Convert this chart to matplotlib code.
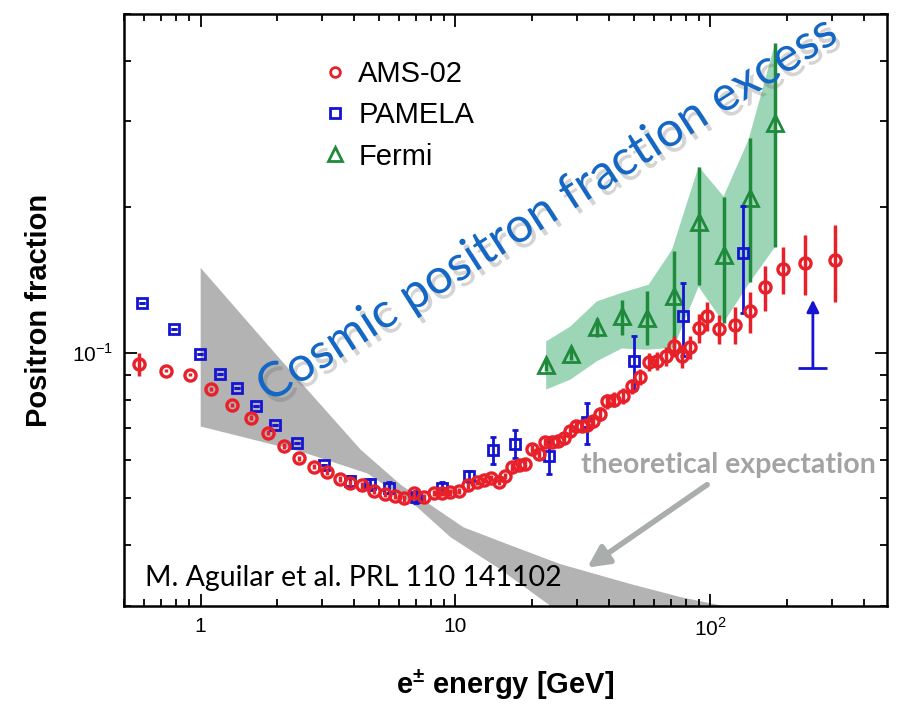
import numpy as np
import matplotlib
matplotlib.use("Agg")
import matplotlib.pyplot as plt
from matplotlib.lines import Line2D
from matplotlib.ticker import FixedLocator, FixedFormatter, NullFormatter, LogLocator
import matplotlib.patheffects as pe

plt.rcParams['font.family'] = ['Liberation Sans', 'DejaVu Sans']
plt.rcParams['mathtext.fontset'] = 'custom'
plt.rcParams['mathtext.rm'] = 'Liberation Sans'
plt.rcParams['mathtext.bf'] = 'Liberation Sans:bold'

RED = '#e8202a'
BLUE = '#1414d2'
GREEN = '#1f8a3c'

# AMS-02 positron fraction
ams_e = [0.573, 0.729, 0.906, 1.10, 1.33, 1.575, 1.83, 2.13, 2.44, 2.78,
         3.12, 3.51, 3.87, 4.31, 4.77, 5.27, 5.77, 6.29, 6.86, 7.51,
         8.22, 8.87, 9.56, 10.3, 11.2, 12.1, 12.9, 13.8, 14.8, 15.7,
         16.7, 17.7, 18.8, 19.9, 21.2, 22.5, 23.9, 25.2, 26.6, 28.1,
         29.6, 31.4, 32.9, 34.7, 36.8, 39.4, 42.0, 45.5, 49.3, 53.2,
         57.7, 62.0, 67.2, 72.3, 77.8, 83.5, 90.6, 97.1, 108.5, 124.5,
         142.6, 163.9, 192.1, 234.4, 308.3]
ams_f = [0.0947, 0.0918, 0.0901, 0.0843, 0.0781, 0.0734, 0.0684, 0.0642, 0.0605, 0.0582,
         0.0567, 0.0549, 0.0539, 0.0532, 0.0518, 0.0511, 0.0506, 0.0500, 0.0512, 0.0503,
         0.0513, 0.0513, 0.0515, 0.0518, 0.0532, 0.0541, 0.0547, 0.0551, 0.0540, 0.0556,
         0.0581, 0.0586, 0.0590, 0.0634, 0.0619, 0.0653, 0.0653, 0.0656, 0.0667, 0.0688,
         0.0707, 0.0705, 0.0710, 0.0722, 0.0748, 0.0794, 0.0800, 0.0815, 0.0852, 0.0891,
         0.0956, 0.0963, 0.0983, 0.1031, 0.0983, 0.1025, 0.1124, 0.1192, 0.1119, 0.1142,
         0.1217, 0.1366, 0.1488, 0.1531, 0.1550]
ams_err = [0.0050] + [0.0008] * 29 + [0.0012] * 9 + \
          [0.0018, 0.0018, 0.0019, 0.0020, 0.0022, 0.0025, 0.0028, 0.0028, 0.0030, 0.0032,
           0.0035, 0.0040, 0.0040, 0.0045, 0.0050, 0.0055, 0.0055, 0.0079, 0.0082, 0.0077,
           0.0101, 0.0118, 0.0146, 0.0164, 0.0218, 0.0280]

# PAMELA
pam_e = [0.591, 0.789, 0.991, 1.19, 1.39, 1.65, 1.95, 2.38, 3.06, 3.87,
         4.61, 5.47, 6.97, 8.87, 11.3, 14.0, 17.2, 23.2, 32.9, 50.4,
         78.2, 134.4]
pam_f = [0.1266, 0.1121, 0.0995, 0.0904, 0.0844, 0.0777, 0.0709, 0.0651, 0.0585, 0.0543,
         0.0535, 0.0526, 0.0504, 0.0526, 0.0556, 0.0629, 0.0649, 0.0611, 0.0718, 0.0960,
         0.1188, 0.1605]
pam_err = [0.0] * 9 + [0.0014] * 6 + [0.0040, 0.0043, 0.0048, 0.0071, 0.0121, 0.0205, 0.040]
pam_lim_e = 252.8
pam_lim_lo, pam_lim_hi = 0.0931, 0.1286
pam_lim_x0, pam_lim_x1 = 221, 288

# Fermi
fermi_e = [22.7, 28.3, 35.9, 45.0, 56.5, 71.8, 90.0, 112.8, 143.5, 179.8]
fermi_f = [0.0945, 0.0995, 0.1131, 0.1188, 0.1179, 0.1307, 0.1865, 0.1593, 0.2084, 0.2976]
fermi_lo = [0.0915, 0.0965, 0.1079, 0.1089, 0.1039, 0.1024, 0.1381, 0.1153, 0.1401, 0.1653]
fermi_hi = [0.0975, 0.1025, 0.1181, 0.1286, 0.1338, 0.1623, 0.2418, 0.2097, 0.2776, 0.4355]
band_up_e = [22.7, 28.3, 35.9, 45.0, 57.3, 70.8, 90.0, 112.8, 141.3, 161.4, 179.8]
band_up_f = [0.1055, 0.1133, 0.1276, 0.1329, 0.1381, 0.1631, 0.2421, 0.2101, 0.2749, 0.354, 0.4355]
band_lo_e = [22.7, 28.3, 35.9, 45.0, 56.5, 71.8, 90.0, 112.8, 143.5, 179.8]
band_lo_f = [0.0839, 0.0880, 0.0960, 0.1020, 0.1014, 0.1024, 0.1368, 0.1153, 0.1401, 0.1653]

# theoretical expectation (secondary production)
th_up_e = [1.0, 2.06, 4.24, 6.09, 10.75, 16.9, 25.8, 48.6, 76.3, 131.0]
th_up_f = [0.1496, 0.0967, 0.0631, 0.0534, 0.0436, 0.0398, 0.0366, 0.0333, 0.0313, 0.0295]
th_lo_e = [1.0, 2.47, 4.52, 7.10, 9.56, 15.0, 25.8]
th_lo_f = [0.0704, 0.0625, 0.0563, 0.0479, 0.0416, 0.0357, 0.0290]

fig = plt.figure(figsize=(9.03, 7.07), dpi=100)
ax = fig.add_axes([0.1373, 0.1429, 0.845, 0.8373])
ax.set_xscale('log')
ax.set_yscale('log')
ax.set_xlim(0.5, 494)
ax.set_ylim(0.03, 0.5)

# grey theory band
th_x = th_up_e + th_lo_e[::-1]
th_y = th_up_f + th_lo_f[::-1]
ax.fill(th_x, th_y, color='#b3b3b3', lw=0, zorder=1)

# Fermi band
bx = band_up_e + band_lo_e[::-1]
by = band_up_f + band_lo_f[::-1]
ax.fill(bx, by, color='#9dd6b6', lw=0, zorder=1)

ax.errorbar(fermi_e, fermi_f,
            yerr=[np.array(fermi_f) - np.array(fermi_lo), np.array(fermi_hi) - np.array(fermi_f)],
            fmt='^', ms=11, mfc='none', mec=GREEN, mew=2, ecolor=GREEN, elinewidth=2.5,
            capsize=0, zorder=3)
ax.errorbar(pam_e, pam_f, yerr=pam_err, fmt='s', ms=7.5, mfc='none', mec=BLUE, mew=2,
            ecolor=BLUE, elinewidth=2, capsize=2.5, capthick=2, zorder=4)
ax.errorbar(ams_e, ams_f, yerr=ams_err, fmt='o', ms=8, mfc='none', mec=RED, mew=2.4,
            ecolor=RED, elinewidth=2.5, capsize=0, zorder=5)

# PAMELA lower limit
ax.hlines(pam_lim_lo, pam_lim_x0, pam_lim_x1, color=BLUE, lw=2, zorder=4)
ax.annotate('', xy=(pam_lim_e, pam_lim_hi), xytext=(pam_lim_e, pam_lim_lo),
            arrowprops=dict(arrowstyle='-|>', color=BLUE, lw=2, mutation_scale=18,
                            shrinkA=0, shrinkB=0), zorder=4)

# axes styling
for s in ax.spines.values():
    s.set_linewidth(1.8)
ax.tick_params(which='both', direction='in', top=True, right=True, width=1.3)
ax.tick_params(which='major', length=9, labelsize=15, pad=8)
ax.tick_params(which='minor', length=5)
ax.xaxis.set_major_locator(FixedLocator([1, 10, 100]))
ax.xaxis.set_major_formatter(FixedFormatter(['1', '10', r'10$^2$']))
ax.xaxis.set_minor_locator(LogLocator(base=10, subs=np.arange(2, 10)))
ax.xaxis.set_minor_formatter(NullFormatter())
ax.yaxis.set_major_locator(FixedLocator([0.1]))
ax.yaxis.set_major_formatter(FixedFormatter([r'10$^{-1}$']))
ax.yaxis.set_minor_locator(LogLocator(base=10, subs=np.arange(2, 10)))
ax.yaxis.set_minor_formatter(NullFormatter())

ax.set_xlabel(r'e$^{\mathbf{\pm}}$ energy [GeV]', fontsize=21, fontweight='bold', labelpad=20)
ax.set_ylabel('Positron fraction', fontsize=21, fontweight='bold', labelpad=13)

handles = [Line2D([], [], marker='o', ls='none', mfc='none', mec=RED, mew=2, ms=7),
           Line2D([], [], marker='s', ls='none', mfc='none', mec=BLUE, mew=2, ms=7),
           Line2D([], [], marker='^', ls='none', mfc='none', mec=GREEN, mew=2, ms=10)]
ax.legend(handles, ['AMS-02', 'PAMELA', 'Fermi'], loc='upper left',
          bbox_to_anchor=(0.219, 0.967), frameon=False, fontsize=21,
          handletextpad=0.2, labelspacing=0.46, handlelength=1.2)

# annotations
ax.text(0.19, 0.342, 'Cosmic positron fraction excess', transform=ax.transAxes,
        rotation=32.5, rotation_mode='anchor', ha='left', va='baseline',
        fontsize=35, family=['Lato', 'DejaVu Sans'], color='#1467c4', clip_on=False,
        zorder=6,
        path_effects=[pe.withSimplePatchShadow(offset=(3, -4), shadow_rgbFace='#666666',
                                               alpha=0.28)])
ax.text(0.0275, 0.047, 'M. Aguilar et al. PRL 110 141102', transform=ax.transAxes,
        ha='left', va='center', fontsize=20.5, family=['Lato', 'DejaVu Sans'],
        color='black', zorder=6)
ax.text(117.7, 0.0585, 'theoretical expectation', ha='center', va='center',
        fontsize=20.5, family=['Lato', 'DejaVu Sans'], fontweight='bold',
        color='#a3a3a3', zorder=6)
ax.annotate('', xy=(32.9, 0.0360), xytext=(97.3, 0.0534),
            arrowprops=dict(arrowstyle='-|>', color='#a9aead', lw=4, mutation_scale=32,
                            shrinkA=0, shrinkB=0), zorder=6)

fig.savefig('out.png', dpi=100)
